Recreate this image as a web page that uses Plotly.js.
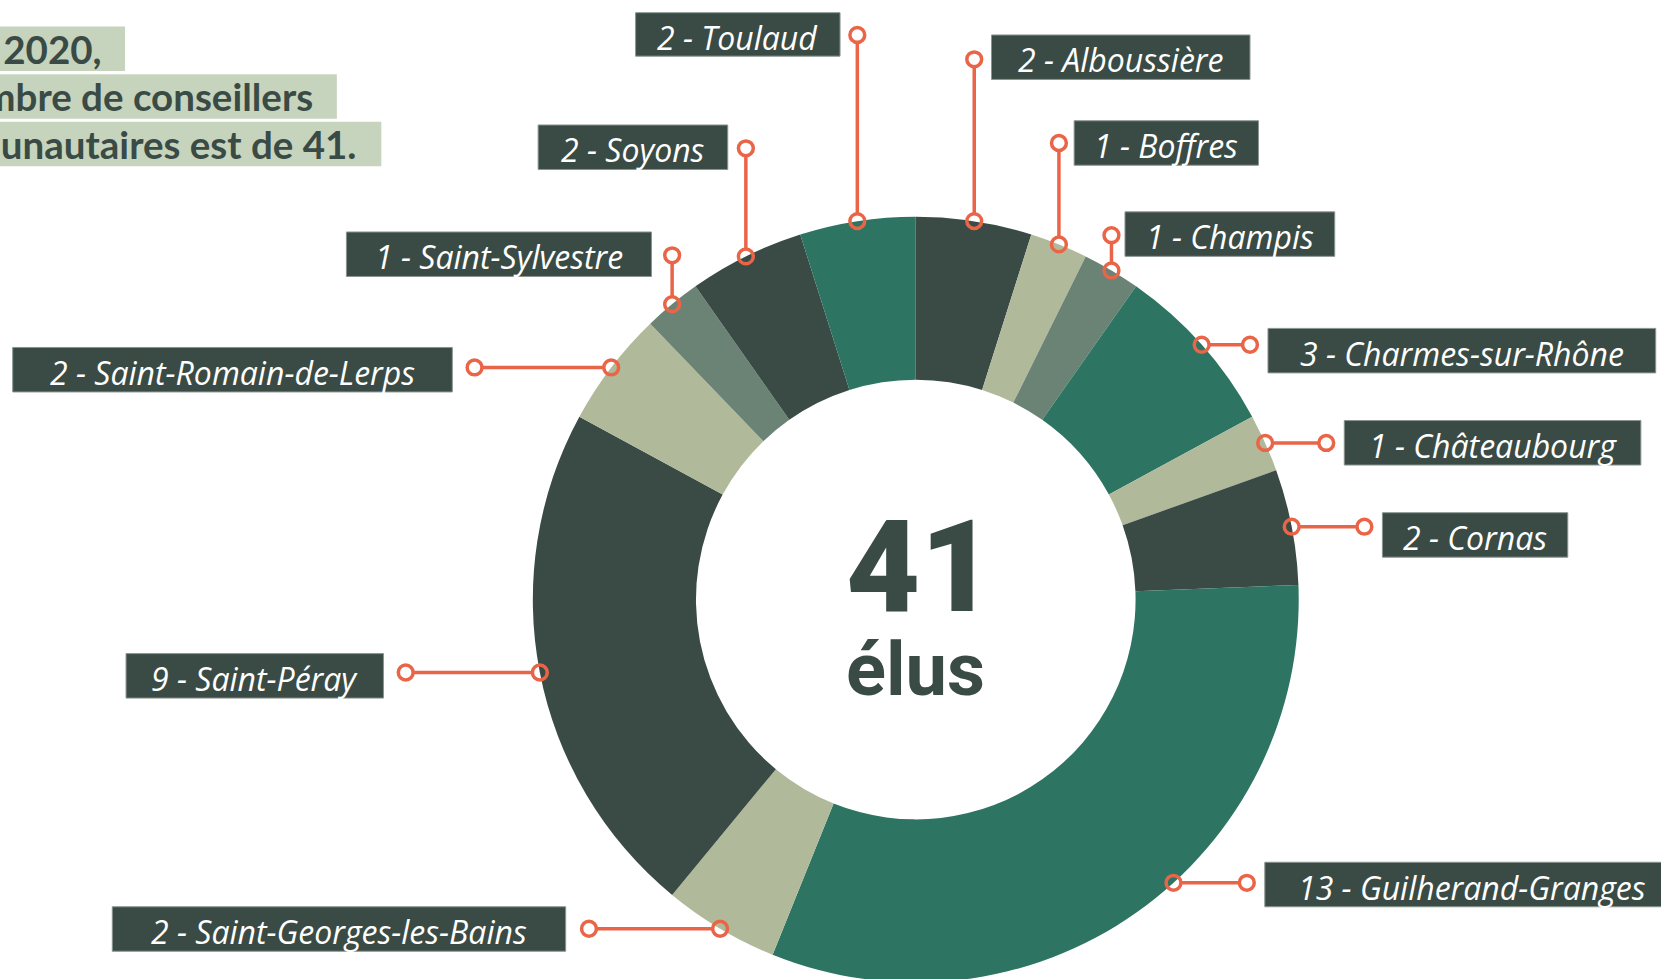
<!DOCTYPE html>
<html>
<head>
<meta charset="utf-8">
<script src="https://cdn.plot.ly/plotly-3.0.1.min.js"></script>
<style>
  html, body { margin: 0; padding: 0; background: #ffffff; overflow: hidden; }
  #chart { width: 1661px; height: 1000px; }
</style>
</head>
<body>
<div id="chart"></div>
<script>
// ---------- DATA ----------
const communes = ['Alboussière', 'Boffres', 'Champis', 'Charmes-sur-Rhône', 'Châteaubourg', 'Cornas',
  'Guilherand-Granges', 'Saint-Georges-les-Bains', 'Saint-Péray', 'Saint-Romain-de-Lerps',
  'Saint-Sylvestre', 'Soyons', 'Toulaud'];
const elus = [2, 1, 1, 3, 1, 2, 13, 2, 9, 2, 1, 2, 2];
const totalLabel = '41';
const unitLabel = 'élus';
const introLines = ['Depuis 2020,', 'le nombre de conseillers', 'communautaires est de 41.'];

// ---------- STYLE ----------
const DARK = '#3a4b45', TEAL = '#2d7562', SAGE = '#b1b99b', GREY = '#6b8374', CORAL = '#ea6548', INTRO_BG = '#c6d4be';
const sliceColors = [DARK, SAGE, GREY, TEAL, SAGE, DARK, TEAL, SAGE, DARK, SAGE, GREY, DARK, TEAL];

// geometry expressed in reference pixels (1568-wide view), scaled to 1661
const S = 1661 / 1568, W = 1661, H = 1000;
const px = x => x * S / W;
const py = y => 1 - y * S / H;
const CX = 864.5, CY = 566, R = 361.5, RIN = 207.5;

// label boxes [x0,y0,x1,y1], leader outer end (only the free coordinate), orientation
const labelLayout = {
  'Alboussière':            {box: [936, 33, 1180, 75],   dir: 'v', end: 56},
  'Boffres':                {box: [1014, 114, 1188, 156], dir: 'v', end: 135},
  'Champis':                {box: [1062, 200, 1260, 242], dir: 'v', end: 222},
  'Charmes-sur-Rhône':      {box: [1197, 310, 1563, 352], dir: 'h', end: 1180},
  'Châteaubourg':           {box: [1269, 397, 1549, 439], dir: 'h', end: 1252},
  'Cornas':                 {box: [1305, 484, 1480, 526], dir: 'h', end: 1288},
  'Guilherand-Granges':     {box: [1194, 814, 1585, 856], dir: 'h', end: 1177, angle: 137.7},
  'Saint-Georges-les-Bains':{box: [106, 856, 534, 898],   dir: 'h', end: 556},
  'Saint-Péray':            {box: [119, 617, 362, 659],   dir: 'h', end: 383},
  'Saint-Romain-de-Lerps':  {box: [12, 328, 427, 370],    dir: 'h', end: 448},
  'Saint-Sylvestre':        {box: [327, 219, 615, 261],   dir: 'v', end: 241},
  'Soyons':                 {box: [508, 118, 687, 160],   dir: 'v', end: 140},
  'Toulaud':                {box: [600, 12, 793, 53],     dir: 'v', end: 33}
};

const total = elus.reduce((a, b) => a + b, 0);
const annotations = [];
const shapes = [];
const CR = 7; // leader circle radius

let cum = 0;
communes.forEach((name, i) => {
  const mid = (cum + elus[i] / 2) / total * 360;
  cum += elus[i];
  const L = labelLayout[name];
  const ang = (L.angle !== undefined ? L.angle : mid) * Math.PI / 180;
  const ax = CX + R * Math.sin(ang), ay = CY - R * Math.cos(ang);
  let ex, ey;
  if (L.dir === 'v') { ex = ax; ey = L.end; } else { ex = L.end; ey = ay; }
  const dx = ax - ex, dy = ay - ey, len = Math.hypot(dx, dy);
  const ux = dx / len, uy = dy / len;
  shapes.push({type: 'line', xref: 'paper', yref: 'paper',
    x0: px(ex + ux * CR), y0: py(ey + uy * CR), x1: px(ax - ux * CR), y1: py(ay - uy * CR),
    line: {color: CORAL, width: 3.5}});
  [[ex, ey], [ax, ay]].forEach(([cx, cy]) => shapes.push({type: 'circle', xref: 'paper', yref: 'paper',
    x0: px(cx - CR), x1: px(cx + CR), y0: py(cy + CR), y1: py(cy - CR),
    line: {color: CORAL, width: 3.5}, fillcolor: 'rgba(0,0,0,0)'}));
  const b = L.box;
  shapes.push({type: 'rect', xref: 'paper', yref: 'paper', x0: px(b[0]), x1: px(b[2]), y0: py(b[3]), y1: py(b[1]),
    fillcolor: DARK, line: {color: '#8a958f', width: 1}});
  annotations.push({xref: 'paper', yref: 'paper', x: px((b[0] + b[2]) / 2), y: py((b[1] + b[3]) / 2 + 2.5),
    xanchor: 'center', yanchor: 'middle', borderpad: 0,
    text: elus[i] + ' - ' + name, showarrow: false,
    font: {family: '"Open Sans", sans-serif', size: 32, color: '#ffffff', style: 'italic'}});
});

// intro text boxes (cropped at the left edge)
const introBoxes = [[-200, 25, 118, 67], [-200, 70, 318, 112], [-200, 115, 360, 157]];
const introTextRight = [97, 296, 338];
introLines.forEach((t, i) => {
  const b = introBoxes[i];
  shapes.push({type: 'rect', xref: 'paper', yref: 'paper', x0: px(b[0]), x1: px(b[2]), y0: py(b[3]), y1: py(b[1]),
    fillcolor: INTRO_BG, line: {width: 0}, layer: 'below'});
  annotations.push({xref: 'paper', yref: 'paper', x: px(introTextRight[i]), y: py((b[1] + b[3]) / 2),
    xanchor: 'right', yanchor: 'middle', text: t, showarrow: false, borderpad: 0,
    font: {family: 'Lato, sans-serif', size: 38.5, color: DARK, weight: 700}});
});

// centre text
annotations.push({xref: 'paper', yref: 'paper', x: px(CX + 4), y: py(535), xanchor: 'center', yanchor: 'middle',
  text: totalLabel, showarrow: false, font: {family: 'Roboto, sans-serif', size: 128, color: DARK, weight: 900}});
annotations.push({xref: 'paper', yref: 'paper', x: px(CX), y: py(632), xanchor: 'center', yanchor: 'middle',
  text: unitLabel, showarrow: false, font: {family: 'Roboto, sans-serif', size: 74, color: DARK, weight: 700}});

const trace = {
  type: 'pie', labels: communes, values: elus, sort: false, direction: 'clockwise', rotation: 0,
  hole: RIN / R, textinfo: 'none', hoverinfo: 'label+value', showlegend: false,
  marker: {colors: sliceColors, line: {width: 0}},
  domain: {x: [px(CX - R), px(CX + R)], y: [py(CY + R), py(CY - R)]}
};

Plotly.newPlot('chart', [trace], {
  width: W, height: H, margin: {l: 0, r: 0, t: 0, b: 0},
  paper_bgcolor: '#ffffff', plot_bgcolor: '#ffffff',
  showlegend: false, annotations: annotations, shapes: shapes
}, {displayModeBar: false, staticPlot: true});
</script>
</body>
</html>
